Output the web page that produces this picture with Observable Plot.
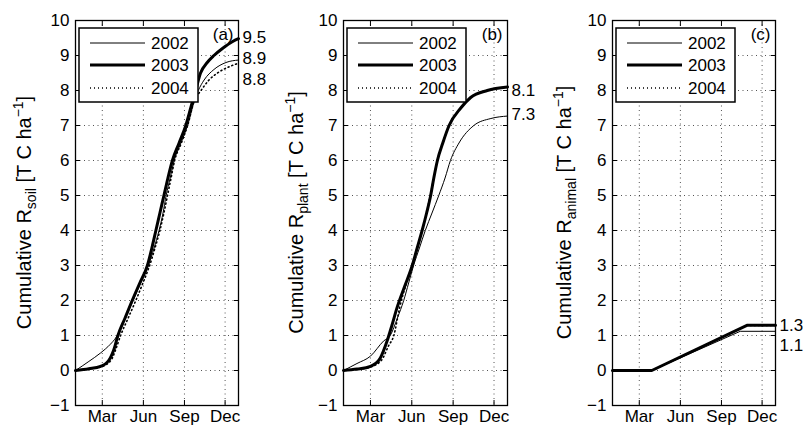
<!DOCTYPE html>
<html><head><meta charset="utf-8">
<script src="https://cdn.jsdelivr.net/npm/d3@7"></script>
<script src="https://cdn.jsdelivr.net/npm/@observablehq/plot@0.6"></script>
<style>
body{margin:0;background:#fff;}
#chart{position:relative;width:803px;height:429px;overflow:hidden;background:#fff;}
#chart svg{position:absolute;top:0;}
</style></head><body><div id="chart"></div>
<script>
// ---------- data ----------
const years = ["2002", "2003", "2004"];
const monthTickDays = [60, 152, 244, 335];
const monthTickLabels = ["Mar", "Jun", "Sep", "Dec"];
const yTicks = [-1, 0, 1, 2, 3, 4, 5, 6, 7, 8, 9, 10];
const dayMax = 365;

// [day of year, cumulative value]
const soil2002 = [[0,0],[30,0.26],[56,0.5],[78,0.75],[90,0.93],[110,1.45],[129,2],[146,2.5],[163,3],[176,3.5],[187,4],[196,4.5],[203,5],[212,5.5],[221,6],[236,6.5],[251,7],[266,7.7],[275,8],[288,8.3],[310,8.6],[337,8.8],[365,8.87]];
const soil2003 = [[0,0],[30,0.05],[56,0.12],[70,0.22],[78,0.36],[86,0.6],[95,1],[111,1.5],[127,2],[144,2.5],[161,3],[171,3.5],[180,4],[189,4.5],[198,5],[207,5.5],[217,6],[232,6.5],[247,7],[258,7.5],[269,8],[280,8.5],[295,8.8],[310,9.0],[329,9.2],[352,9.4],[365,9.48]];
const soil2004 = [[0,0],[30,0.05],[56,0.1],[80,0.3],[90,0.6],[101,1],[118,1.5],[135,2],[151,2.5],[166,3],[178,3.5],[189,4],[198,4.5],[206,5],[214,5.5],[222,6],[237,6.5],[251,7],[266,7.7],[281,8],[299,8.3],[318,8.5],[348,8.7],[365,8.78]];

const plant2002 = [[0,0],[30,0.2],[60,0.41],[89,0.84],[104,1],[120,1.5],[134,2],[145,2.5],[156,3],[169,3.5],[182,4],[197,4.5],[212,5],[226,5.5],[238,6],[257,6.5],[290,7.0],[328,7.2],[365,7.27]];
const plant2003 = [[0,0],[30,0.04],[60,0.12],[82,0.36],[97,0.84],[108,1.3],[119,1.79],[136,2.4],[153,3],[164,3.5],[175,4],[185,4.5],[194,5],[201,5.5],[209,6],[221,6.5],[235,7],[261,7.5],[283,7.8],[320,8.0],[365,8.1]];
const plant2004 = [[0,0],[30,0.03],[60,0.1],[85,0.3],[100,0.7],[112,1.0],[125,1.8],[153,3],[164,3.5],[175,4],[185,4.5],[193,5],[201,5.5],[209,6],[221,6.5],[235,7],[261,7.5],[283,7.8],[320,8.0],[365,8.1]];

const animal2002 = [[0,0],[88,0],[286,1.12],[365,1.12]];
const animal2003 = [[0,0],[88,0],[301,1.29],[365,1.29]];
const animal2004 = [[0,0],[88,0],[301,1.29],[365,1.29]];

const soilEndLabels = ["9.5", "8.9", "8.8"];
const soilEndLabelY = [9.5, 8.9, 8.3];
const plantEndLabels = ["8.1", "7.3"];
const plantEndLabelY = [8.0, 7.3];
const animalEndLabels = ["1.3", "1.1"];
const animalEndLabelY = [1.29, 0.7];

const panelLetters = ["(a)", "(b)", "(c)"];
const panelQuantities = ["soil", "plant", "animal"];

// ---------- styles ----------
const FONT = "'Liberation Sans', Arial, Helvetica, sans-serif";
const yearStyle = {
  "2002": {strokeWidth: 1, dash: null},
  "2003": {strokeWidth: 3, dash: null},
  "2004": {strokeWidth: 1.6, dash: "1,3"}
};
const H = 429, MT = 20, MB = 24;

function panel(cfg) {
  const rows = [];
  cfg.series.forEach((s, i) => s.forEach(([d, v]) => rows.push({year: years[i], day: d, value: v})));
  const gridStyle = {stroke: "#000", strokeOpacity: 0.75, strokeWidth: 0.9, strokeDasharray: "1,3.5"};
  const marks = [
    Plot.gridX({ticks: monthTickDays, ...gridStyle}),
    Plot.gridY({ticks: yTicks, ...gridStyle}),
  ];
  years.forEach(y => {
    marks.push(Plot.line(rows.filter(r => r.year === y), {
      x: "day", y: "value", stroke: "#000",
      strokeWidth: yearStyle[y].strokeWidth,
      strokeDasharray: yearStyle[y].dash,
      strokeLinejoin: "round", curve: cfg.curve
    }));
  });
  marks.push(
    Plot.frame({stroke: "#000", strokeWidth: 1.3}),
    Plot.axisY({ticks: yTicks, anchor: "left", tickSize: -5, tickPadding: 11, label: null, fontSize: 17}),
    Plot.axisY({ticks: yTicks, anchor: "right", tickSize: -5, tickFormat: () => "", label: null}),
    Plot.axisX({ticks: monthTickDays, anchor: "bottom", tickSize: -5, tickPadding: 9, label: null, fontSize: 17,
      tickFormat: d => monthTickLabels[monthTickDays.indexOf(d)]}),
    Plot.axisX({ticks: monthTickDays, anchor: "top", tickSize: -5, tickFormat: () => "", label: null}),
    Plot.text([cfg.letter], {frameAnchor: "top-right", dx: -5, dy: 7, text: d => d, fontSize: 17, lineAnchor: "top"}),
    Plot.text(cfg.endLabels, {x: () => dayMax, y: (d, i) => cfg.endLabelY[i], text: d => d,
      textAnchor: "start", dx: 4, fontSize: 17})
  );
  const svg = Plot.plot({
    width: cfg.width, height: H,
    marginLeft: cfg.mL, marginRight: cfg.mR, marginTop: MT, marginBottom: MB,
    x: {domain: [0, dayMax]},
    y: {domain: [-1, 10]},
    style: {fontFamily: FONT, fontSize: "17px", background: "white", color: "#000"},
    marks
  });
  svg.style.left = cfg.left + "px";
  const s = d3.select(svg);
  // y-axis label with subscript and superscript
  const t = s.append("text")
    .attr("transform", `translate(${cfg.ylabX},${(MT + H - MB) / 2}) rotate(-90)`)
    .attr("text-anchor", "middle")
    .attr("fill", "#000")
    .style("font-family", FONT)
    .style("font-size", "20px");
  t.append("tspan").text("Cumulative R");
  t.append("tspan").attr("dy", 5).style("font-size", "14px").text(cfg.quantity);
  t.append("tspan").attr("dy", -5).text(" [T C ha");
  t.append("tspan").attr("dy", -8).style("font-size", "14px").text("−1");
  t.append("tspan").attr("dy", 8).text("]");
  // legend
  const lx = cfg.mL + 4, ly = 28;
  const g = s.append("g").attr("text-anchor", "start");
  g.append("rect").attr("x", lx).attr("y", ly).attr("width", 119).attr("height", 74)
    .attr("fill", "white").attr("stroke", "#000").attr("stroke-width", 1.5);
  const rowY = [43, 65, 88];
  years.forEach((y, i) => {
    g.append("line").attr("x1", lx + 11).attr("x2", lx + 66).attr("y1", rowY[i]).attr("y2", rowY[i])
      .attr("stroke", "#000").attr("stroke-width", yearStyle[y].strokeWidth)
      .attr("stroke-dasharray", yearStyle[y].dash);
    g.append("text").attr("x", lx + 72).attr("y", rowY[i] + 6).text(y)
      .attr("text-anchor", "start")
      .attr("fill", "#000").style("font-family", FONT).style("font-size", "17px");
  });
  return svg;
}

const chart = document.getElementById("chart");
const configs = [
  {series: [soil2002, soil2003, soil2004], endLabels: soilEndLabels, endLabelY: soilEndLabelY, curve: "monotone-x",
   letter: panelLetters[0], quantity: panelQuantities[0], left: 0, width: 270, mL: 75, mR: 32, ylabX: 31},
  {series: [plant2002, plant2003, plant2004], endLabels: plantEndLabels, endLabelY: plantEndLabelY, curve: "monotone-x",
   letter: panelLetters[1], quantity: panelQuantities[1], left: 270, width: 270, mL: 73, mR: 33, ylabX: 33},
  {series: [animal2002, animal2003, animal2004], endLabels: animalEndLabels, endLabelY: animalEndLabelY, curve: "linear",
   letter: panelLetters[2], quantity: panelQuantities[2], left: 540, width: 263, mL: 72, mR: 28, ylabX: 31}
];
configs.forEach(c => chart.appendChild(panel(c)));
</script>
</body></html>
